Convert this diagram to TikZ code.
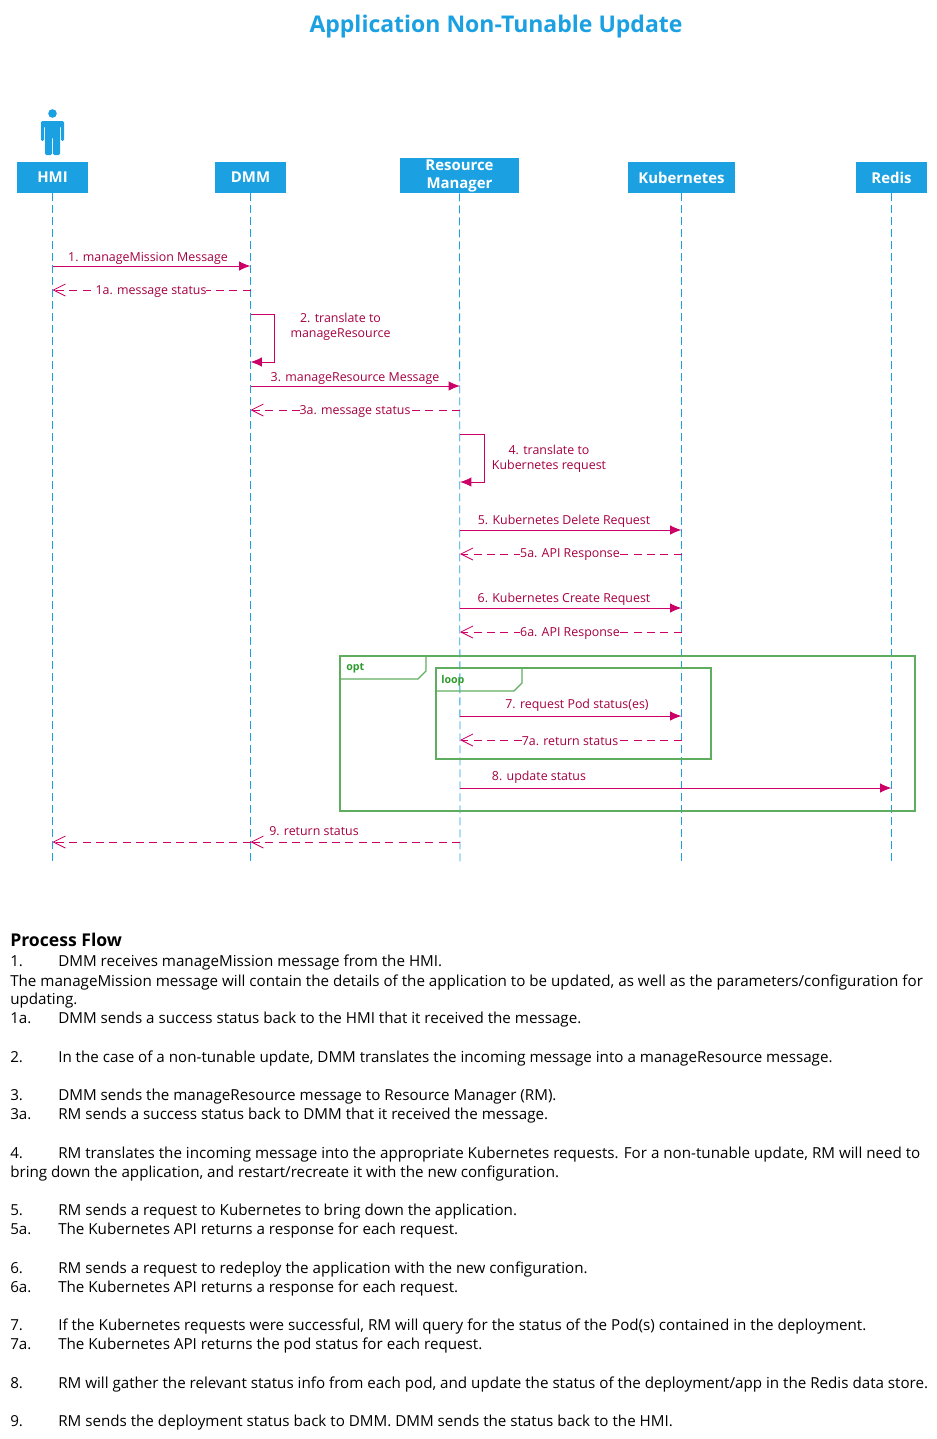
\documentclass[tikz,border=0pt]{standalone}
\usepackage{fontspec}
\setmainfont{Open Sans}
\usetikzlibrary{arrows.meta,positioning,calc}
\definecolor{headblue}{HTML}{1BA1E2}
\definecolor{msgpink}{HTML}{CC0066}
\definecolor{msgtext}{HTML}{A50040}
\definecolor{framegreen}{HTML}{5FAE5F}
\definecolor{frametext}{HTML}{2E9A2E}
\tikzset{
    headbox/.style={fill=headblue, text=white, font=\bfseries\fontsize{11.2}{12}\selectfont, align=center, inner sep=0pt, minimum height=23.5pt},
    lifeline/.style={headblue, dashed, dash pattern=on 6pt off 3pt, line width=0.6pt},
    msgsolid/.style={msgpink, line width=0.7pt, -{Latex[length=8.5pt,width=7pt]}},
    msgreturn/.style={msgpink, line width=0.7pt, dash pattern=on 6pt off 4pt, -{Straight Barb[length=9pt,width=9pt,line width=0.6pt]}},
    msglabel/.style={text=msgtext, font=\fontsize{9.3}{11.2}\selectfont, align=center, inner sep=0pt},
    retlabel/.style={msglabel, fill=white},
    framebox/.style={draw=framegreen, line width=0.85pt},
    framelabel/.style={text=frametext, font=\bfseries\fontsize{8}{10}\selectfont, anchor=west, inner sep=0pt},
    flowtext/.style={anchor=base west, inner sep=0pt, font=\fontsize{11.38}{13}\selectfont}
}
\begin{document}
\begin{tikzpicture}[x=0.75pt, y=-0.75pt]
    \useasboundingbox (0,0) rectangle (937,1439);

    % Title
    \node[text=headblue, font=\bfseries\fontsize{17.25}{22}\selectfont] (title) at (496,27) {Application Non-Tunable Update};

    % Actor
    \fill[headblue] (52.5,113.5) circle (4.3);
    \fill[headblue, rounded corners=1pt] (41,121) -- (64,121) -- (64,141) -- (61,141) -- (61,126) -- (60,126) -- (60,155) -- (53,155) -- (53,137) -- (52,137) -- (52,155) -- (45,155) -- (45,126) -- (44,126) -- (44,141) -- (41,141) -- cycle;

    % Heads
    \node[headbox, minimum width=53pt] (hmi) at (52.5,177.5) {\raisebox{-1.3pt}{HMI}};
    \node[headbox, minimum width=53pt] (dmm) at (250.5,177.5) {\raisebox{-1.3pt}{DMM}};
    \node[headbox, minimum width=89.5pt, minimum height=26.5pt, font=\bfseries\fontsize{11.2}{13.5}\selectfont] (rm) at (459.5,175.5) {\raisebox{-2.2pt}{Resource}\\\raisebox{-2.2pt}{Manager}};
    \node[headbox, minimum width=80pt] (kube) at (681.5,177.5) {\raisebox{-0.7pt}{Kubernetes}};
    \node[headbox, minimum width=53pt] (redis) at (891.5,177.5) {\raisebox{-1.3pt}{Redis}};

    % Lifelines
    \foreach \name/\xpos in {hmi/52.5,dmm/250.5,rm/460,kube/681.5,redis/891.5}{
        \coordinate (\name-end) at (\xpos,862);
        \draw[lifeline] (\name) -- (\name-end);
        \foreach \ypos in {266,290,314,362,386,410,434,482,530,554,608,632,716,740,788,842}{
            \coordinate (\name-\ypos) at (\xpos,\ypos);
        }
    }

    % Frames
    \draw[framebox] (340,656) rectangle (915,811);
    \draw[framebox] (340,679) -- (418,679) -- (426,671) -- (426,656);
    \node[framelabel] (opt) at (346,668.5) {opt};
    \draw[framebox] (436,668) rectangle (711,759);
    \draw[framebox] (436,691) -- (514,691) -- (522,683) -- (522,668);
    \node[framelabel] (loop) at (441,680.5) {loop};

    % Messages
    \draw[msgsolid] (hmi-266) -- (dmm-266);
    \node[msglabel] (m1) at (148,258) {1. manageMission Message};
    \draw[msgreturn] (dmm-290) -- (hmi-290);
    \node[retlabel] (m1a) at (151,291.5) {1a. message status};

    \coordinate (dmm-a) at ($(dmm-314)+(24,0)$);
    \coordinate (dmm-b) at ($(dmm-362)+(24,0)$);
    \draw[msgsolid] (dmm-314) -- (dmm-a) -- (dmm-b) -- (dmm-362);
    \node[msglabel] (m2) at (340.5,327) {2. translate to\\manageResource};

    \draw[msgsolid] (dmm-386) -- (rm-386);
    \node[msglabel] (m3) at (355,378) {3. manageResource Message};
    \draw[msgreturn] (rm-410) -- (dmm-410);
    \node[retlabel] (m3a) at (355,411) {3a. message status};

    \coordinate (rm-a) at ($(rm-434)+(24,0)$);
    \coordinate (rm-b) at ($(rm-482)+(24,0)$);
    \draw[msgsolid] (rm-434) -- (rm-a) -- (rm-b) -- (rm-482);
    \node[msglabel] (m4) at (549,459) {4. translate to\\Kubernetes request};

    \draw[msgsolid] (rm-530) -- (kube-530);
    \node[msglabel] (m5) at (564,521) {5. Kubernetes Delete Request};
    \draw[msgreturn] (kube-554) -- (rm-554);
    \node[retlabel] (m5a) at (570,555) {5a. API Response};

    \draw[msgsolid] (rm-608) -- (kube-608);
    \node[msglabel] (m6) at (564,599) {6. Kubernetes Create Request};
    \draw[msgreturn] (kube-632) -- (rm-632);
    \node[retlabel] (m6a) at (570,633) {6a. API Response};

    \draw[msgsolid] (rm-716) -- (kube-716);
    \node[msglabel] (m7) at (577,705) {7. request Pod status(es)};
    \draw[msgreturn] (kube-740) -- (rm-740);
    \node[retlabel] (m7a) at (570,741) {7a. return status};

    \draw[msgsolid] (rm-788) -- (redis-788);
    \node[msglabel] (m8) at (539,777) {8. update status};

    \draw[msgreturn] (rm-842) -- (dmm-842);
    \draw[msgreturn] (dmm-842) -- (hmi-842);
    \node[msglabel] (m9) at (314,831) {9. return status};

    % Process flow
    \node[anchor=base west, inner sep=0pt, font=\bfseries\fontsize{13.2}{16}\selectfont] (flowhead) at (10,946) {Process Flow};
    \foreach \ypos/\num/\body [count=\i] in {
        966/1./{DMM receives manageMission message from the HMI.},
        1023/1a./{DMM sends a success status back to the HMI that it received the message.},
        1062/2./{In the case of a non-tunable update, DMM translates the incoming message into a manageResource message.},
        1100/3./{DMM sends the manageResource message to Resource Manager (RM).},
        1119/3a./{RM sends a success status back to DMM that it received the message.},
        1158/4./{RM translates the incoming message into the appropriate Kubernetes requests. For a non-tunable update, RM will need to},
        1215/5./{RM sends a request to Kubernetes to bring down the application.},
        1234/5a./{The Kubernetes API returns a response for each request.},
        1273/6./{RM sends a request to redeploy the application with the new configuration.},
        1292/6a./{The Kubernetes API returns a response for each request.},
        1330/7./{If the Kubernetes requests were successful, RM will query for the status of the Pod(s) contained in the deployment.},
        1349/7a./{The Kubernetes API returns the pod status for each request.},
        1388/8./{RM will gather the relevant status info from each pod, and update the status of the deployment/app in the Redis data store.},
        1426/9./{RM sends the deployment status back to DMM. DMM sends the status back to the HMI.}}{
        \node[flowtext] (num\i) at (10,\ypos) {\num};
        \node[flowtext] (txt\i) at (58,\ypos) {\body};
    }
    \node[flowtext] (cont1) at (10,986) {The manageMission message will contain the details of the application to be updated, as well as the parameters/configuration for};
    \node[flowtext] (cont2) at (10,1004) {updating.};
    \node[flowtext] (cont3) at (10,1177) {bring down the application, and restart/recreate it with the new configuration.};
\end{tikzpicture}
\end{document}
